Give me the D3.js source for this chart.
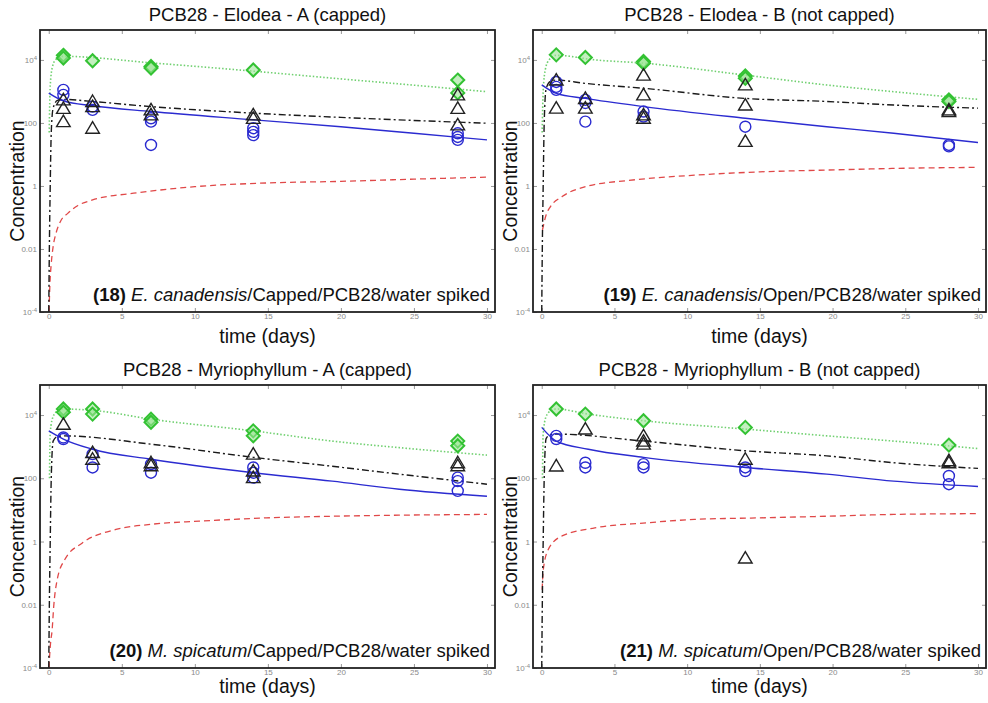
<!DOCTYPE html>
<html>
<head>
<meta charset="utf-8">
<script src="https://cdn.jsdelivr.net/npm/d3@7"></script>
<style>
  body { margin: 0; background: #fff; }
  svg { display: block; font-family: "Liberation Sans", Arial, sans-serif; }
</style>
</head>
<body>
<svg id="chart" width="988" height="703"></svg>
<script>
// values (day, concentration)
const panelTitles = [
    'PCB28 - Elodea - A (capped)',
    'PCB28 - Elodea - B (not capped)',
    'PCB28 - Myriophyllum - A (capped)',
    'PCB28 - Myriophyllum - B (not capped)'
];
const panelNumbers = ['(18)', '(19)', '(20)', '(21)'];
const panelSpecies = ['E. canadensis', 'E. canadensis', 'M. spicatum', 'M. spicatum'];
const panelRest = [
    '/Capped/PCB28/water spiked',
    '/Open/PCB28/water spiked',
    '/Capped/PCB28/water spiked',
    '/Open/PCB28/water spiked'
];

const xTicks = [0, 5, 10, 15, 20, 25, 30];
const yTicks = [1e-4, 0.01, 1, 100, 1e4];
const yTickLabels = [['10', '-4'], ['0.01'], ['1'], ['100'], ['10', '4']];

// panel 18
const diamonds18 = [[1, 14000], [1, 11500], [3, 9400], [7, 6200], [7, 5500], [14, 4800], [28, 2300], [28, 900]];
const circles18 = [[1, 1120], [1, 780], [3, 330], [3, 260], [7, 141], [7, 110], [7, 20], [14, 68], [14, 52], [14, 41], [28, 47], [28, 36], [28, 29]];
const triangles18 = [[1, 540], [1, 290], [1, 110], [3, 480], [3, 330], [3, 68], [7, 260], [7, 180], [14, 180], [14, 140], [28, 780], [28, 290], [28, 87]];
const dotted18 = [[0.03, 50], [0.1, 1500], [0.25, 6000], [0.5, 10500], [1, 13000], [7, 8100], [14, 4400], [20, 2500], [25, 1580], [30, 980]];
const dashDot18 = [[0, 1e-4], [0.04, 0.01], [0.1, 1], [0.17, 50], [0.3, 300], [0.6, 520], [1, 560], [3, 480], [7, 330], [14, 205], [20, 150], [25, 120], [30, 98]];
const solid18 = [[0, 880], [1, 500], [3, 350], [7, 230], [14, 126], [20, 76], [25, 47], [30, 29]];
const dashed18 = [[0.02, 1e-4], [0.08, 0.0008], [0.16, 0.003], [0.3, 0.012], [0.5, 0.032], [0.8, 0.075], [1.3, 0.135], [2, 0.24], [3, 0.36], [6, 0.6], [10, 0.95], [15, 1.25], [20, 1.4], [25, 1.65], [30, 1.9]];

// panel 19
const diamonds19 = [[1, 14500], [3, 12000], [7, 8900], [7, 7900], [14, 3100], [14, 2600], [28, 540], [28, 480]];
const circles19 = [[1, 2000], [1, 1400], [1, 1120], [3, 540], [3, 430], [3, 110], [7, 230], [7, 160], [14, 76], [28, 20], [28, 18]];
const triangles19 = [[1, 2300], [1, 295], [3, 600], [3, 295], [7, 3300], [7, 780], [7, 180], [7, 141], [14, 1620], [14, 370], [14, 26], [28, 260], [28, 230]];
const dotted19 = [[0.03, 50], [0.1, 1000], [0.25, 5000], [0.5, 10000], [1, 14000], [3.7, 10000], [7, 7900], [14, 3300], [19.6, 1600], [24.2, 980], [30, 560]];
const dashDot19 = [[0, 1e-4], [0.04, 0.01], [0.1, 1], [0.17, 100], [0.3, 1200], [0.6, 2100], [1, 2300], [3, 1800], [7, 1260], [14, 600], [19.6, 480], [24.2, 370], [30, 295]];
const solid19 = [[0, 1620], [1, 870], [3, 600], [7, 330], [14, 141], [19.6, 76], [24.2, 47], [30, 24]];
const dashed19 = [[0.05, 0.04], [0.3, 0.12], [0.6, 0.22], [1.4, 0.46], [3.2, 1], [6, 1.5], [10.5, 2.2], [15, 2.8], [19.6, 3.2], [24.2, 3.6], [30, 3.9]];

// panel 20
const diamonds20 = [[1, 15500], [1, 12300], [3, 15500], [3, 10700], [7, 7400], [7, 5900], [14, 3160], [14, 2200], [28, 1500], [28, 1070]];
const circles20 = [[1, 1950], [1, 1740], [3, 580], [3, 220], [7, 280], [7, 150], [14, 220], [14, 150], [14, 105], [28, 105], [28, 81], [28, 40]];
const triangles20 = [[1, 5100], [3, 650], [3, 400], [7, 310], [7, 250], [14, 580], [14, 170], [14, 105], [28, 310], [28, 250]];
const dotted20 = [[0.05, 100], [0.1, 2800], [0.3, 9000], [0.6, 13500], [1, 15500], [3.2, 13800], [7, 7400], [14, 3160], [19.4, 1500], [24, 930], [30, 540]];
const dashDot20 = [[0, 1e-4], [0.04, 0.01], [0.1, 1], [0.17, 100], [0.3, 1500], [0.6, 2100], [1, 2200], [7, 1200], [14, 460], [19.4, 240], [24, 135], [30, 65]];
const solid20 = [[0, 3160], [1, 1740], [3, 830], [7, 400], [14, 150], [19.4, 81], [24, 45], [30, 27]];
const dashed20 = [[0.01, 1e-4], [0.12, 0.0006], [0.23, 0.0016], [0.34, 0.009], [0.57, 0.06], [1.1, 0.27], [2.3, 0.9], [4.6, 2.4], [7, 3.5], [10.3, 4.4], [14.9, 5.6], [19.4, 6.3], [24, 6.8], [30, 7.2]];

// panel 21
const diamonds21 = [[1, 15500], [3, 10700], [7, 6600], [14, 4070], [28, 1120]];
const circles21 = [[1, 2200], [1, 1740], [3, 310], [3, 220], [7, 280], [7, 220], [14, 220], [14, 170], [28, 118], [28, 65]];
const triangles21 = [[1, 245], [3, 3600], [7, 2200], [7, 1500], [7, 1200], [14, 400], [14, 0.3], [28, 360], [28, 310]];
const dotted21 = [[0.05, 100], [0.1, 2500], [0.3, 9000], [0.6, 13500], [1, 15500], [3.2, 10700], [7, 6600], [14, 3600], [19.6, 2200], [24.2, 1500], [30, 870]];
const dashDot21 = [[0, 1e-4], [0.04, 0.01], [0.1, 1], [0.17, 100], [0.3, 1800], [0.6, 2400], [1, 2500], [7, 1500], [14, 740], [19.6, 510], [24.2, 310], [30, 205]];
const solid21 = [[0, 4070], [1, 1500], [3.2, 830], [7, 460], [14, 220], [19.6, 135], [24.2, 81], [30, 55]];
const dashed21 = [[0.03, 0.03], [0.1, 0.12], [0.45, 0.56], [1.4, 1.5], [3.65, 2.7], [7.2, 3.9], [10.5, 5], [15, 5.6], [19.6, 6.3], [24.2, 7.2], [30, 7.6]];

const panels = [
    { diamonds: diamonds18, circles: circles18, triangles: triangles18, dotted: dotted18, dashDot: dashDot18, solid: solid18, dashed: dashed18 },
    { diamonds: diamonds19, circles: circles19, triangles: triangles19, dotted: dotted19, dashDot: dashDot19, solid: solid19, dashed: dashed19 },
    { diamonds: diamonds20, circles: circles20, triangles: triangles20, dotted: dotted20, dashDot: dashDot20, solid: solid20, dashed: dashed20 },
    { diamonds: diamonds21, circles: circles21, triangles: triangles21, dotted: dotted21, dashDot: dashDot21, solid: solid21, dashed: dashed21 }
];

const svg = d3.select('#chart');
const cols = [[40, 495], [533, 986]];
const rows = [[30, 312], [385, 668]];
const xLabelGap = [31, 25];   // the two rows were pasted with slightly different gaps

const diamondPath = 'M0,-6.5L6.5,0L0,6.5L-6.5,0Z';
const trianglePath = 'M0,-6.5L6.8,5L-6.8,5Z';

panels.forEach((p, i) => {
    let row = Math.floor(i / 2);
    let [x0, x1] = cols[i % 2];
    let [y0, y1] = rows[row];
    let x = d3.scaleLinear().domain([-0.6, 30.55]).range([x0, x1]);
    let y = d3.scaleLog().domain([1e-4, Math.pow(10, 4.95)]).range([y1, y0]);
    let g = svg.append('g');

    g.append('clipPath').attr('id', 'clip' + i)
        .append('rect').attr('x', x0).attr('y', y0).attr('width', x1 - x0).attr('height', y1 - y0);

    // axes, ticks pointing inward
    let xAxis = g.append('g').attr('transform', `translate(0,${y1})`)
        .call(d3.axisBottom(x).tickValues(xTicks).tickSizeInner(-4).tickSizeOuter(0).tickPadding(1));
    let yAxis = g.append('g').attr('transform', `translate(${x0},0)`)
        .call(d3.axisLeft(y).tickValues(yTicks).tickSizeInner(-4).tickSizeOuter(0).tickPadding(3));
    g.append('g').attr('transform', `translate(0,${y0})`)
        .call(d3.axisTop(x).tickValues(xTicks).tickSizeInner(-4).tickSizeOuter(0).tickFormat(''));
    g.append('g').attr('transform', `translate(${x1},0)`)
        .call(d3.axisRight(y).tickValues(yTicks).tickSizeInner(-4).tickSizeOuter(0).tickFormat(''));
    g.selectAll('.domain').remove();
    g.selectAll('.tick line').attr('stroke', '#999');
    g.selectAll('.tick text').attr('fill', '#8a8a8a').attr('font-size', 8)
        .attr('font-family', '"Liberation Sans", Arial, sans-serif');
    yAxis.selectAll('.tick text').each(function(d, k) {
        let t = d3.select(this).text(yTickLabels[k][0]);
        if (yTickLabels[k][1]) {
            t.append('tspan').attr('dy', -3).attr('font-size', 6).text(yTickLabels[k][1]);
        }
    });

    let line = d3.line()
        .x(d => x(d[0]))
        .y(d => y(d[1]))
        .curve(d3.curveMonotoneX);

    let curves = g.append('g').attr('clip-path', `url(#clip${i})`);
    curves.append('path').attr('d', line(p.dashed)).attr('fill', 'none')
        .attr('stroke', '#e04848').attr('stroke-width', 1.3).attr('stroke-dasharray', '6,4');
    curves.append('path').attr('d', line(p.dotted)).attr('fill', 'none')
        .attr('stroke', '#70d070').attr('stroke-width', 1.6).attr('stroke-dasharray', '1.5,2');
    curves.append('path').attr('d', line(p.solid)).attr('fill', 'none')
        .attr('stroke', '#2b2bd0').attr('stroke-width', 1.4);
    curves.append('path').attr('d', line(p.dashDot)).attr('fill', 'none')
        .attr('stroke', '#1a1a1a').attr('stroke-width', 1.4).attr('stroke-dasharray', '7,3,2,3');

    // observations
    g.append('g').selectAll('path').data(p.diamonds).enter().append('path')
        .attr('d', diamondPath)
        .attr('transform', d => `translate(${x(d[0])},${y(d[1])})`)
        .attr('fill', '#9be494').attr('fill-opacity', 0.6)
        .attr('stroke', '#33c233').attr('stroke-width', 2);
    g.append('g').selectAll('circle').data(p.circles).enter().append('circle')
        .attr('cx', d => x(d[0])).attr('cy', d => y(d[1])).attr('r', 5.5)
        .attr('fill', 'none').attr('stroke', '#2a2ad0').attr('stroke-width', 1.4);
    g.append('g').selectAll('path').data(p.triangles).enter().append('path')
        .attr('d', trianglePath)
        .attr('transform', d => `translate(${x(d[0])},${y(d[1])})`)
        .attr('fill', 'none').attr('stroke', '#222').attr('stroke-width', 1.4);

    // frame
    g.append('rect').attr('x', x0).attr('y', y0).attr('width', x1 - x0).attr('height', y1 - y0)
        .attr('fill', 'none').attr('stroke', '#222').attr('stroke-width', 1.8);

    // texts
    let cx = (x0 + x1) / 2;
    g.append('text').attr('x', cx).attr('y', y0 - 9).attr('text-anchor', 'middle')
        .attr('font-size', 18.5).attr('fill', '#111').text(panelTitles[i]);
    g.append('text').attr('x', cx).attr('y', y1 + xLabelGap[row]).attr('text-anchor', 'middle')
        .attr('font-size', 19.5).attr('fill', '#111').text('time (days)');
    g.append('text')
        .attr('transform', `translate(${x0 - 16},${(y0 + y1) / 2 + 10}) rotate(-90)`)
        .attr('text-anchor', 'middle').attr('font-size', 19.5).attr('fill', '#111')
        .text('Concentration');

    let note = g.append('text').attr('x', x1 - 5).attr('y', y1 - 11)
        .attr('text-anchor', 'end').attr('font-size', 18.5).attr('fill', '#111');
    note.append('tspan').attr('font-weight', 'bold').text(panelNumbers[i] + ' ');
    note.append('tspan').attr('font-style', 'italic').text(panelSpecies[i]);
    note.append('tspan').text(panelRest[i]);
});
</script>
</body>
</html>
